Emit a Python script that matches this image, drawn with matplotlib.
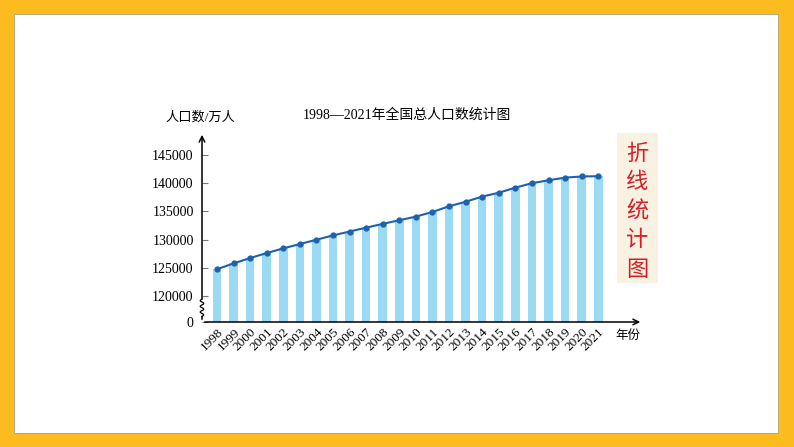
import matplotlib
matplotlib.use('Agg')
import matplotlib.pyplot as plt
from matplotlib.patches import Rectangle
import matplotlib.transforms as mtransforms
import numpy as np

years = [str(y) for y in range(1998, 2022)]
population = [124761, 125786, 126743, 127627, 128453, 129227, 129988, 130756,
              131448, 132129, 132802, 133450, 134091, 134916, 135922, 136726,
              137646, 138326, 139232, 140011, 140541, 141008, 141212, 141260]
yticks = [0, 120000, 125000, 130000, 135000, 140000, 145000]

BREAK = 120000
LOW = 0.92


def fwd(v):
    v = np.asarray(v, dtype=float)
    return np.where(v < BREAK, v / BREAK * LOW, LOW + (v - BREAK) / 5000.0)


def inv(u):
    u = np.asarray(u, dtype=float)
    return np.where(u < LOW, u / LOW * BREAK, BREAK + (u - LOW) * 5000.0)


fig = plt.figure(figsize=(7.94, 4.47), dpi=100)
fig.set_facecolor('#FCBB1F')
# white slide
fig.patches.append(Rectangle((14 / 794, 14 / 447), (794 - 30) / 794, (447 - 28) / 447,
                             transform=fig.transFigure, facecolor='white',
                             edgecolor='#B0A080', linewidth=0.6, zorder=-5))

ax = fig.add_axes([202 / 794, 125 / 447, 441 / 794, 190 / 447])
ax.set_facecolor('none')
ax.set_yscale('function', functions=(fwd, inv))
x = np.arange(len(years))
ax.bar(x, population, width=0.52, color='#9ADAF2', linewidth=0, zorder=1)
ax.plot(x, population, color='#1D62AE', linewidth=1.5, marker='o', markersize=3.5, zorder=3)

ax.set_xlim(-0.9, 25.7)
ax.set_ylim(0, 149100)
for s in ax.spines.values():
    s.set_visible(False)

serif = ['Liberation Serif', 'Noto Sans CJK SC']
ax.set_yticks(yticks)
ax.set_yticklabels([str(t) for t in yticks], family=serif, fontsize=10)
ax.tick_params(axis='y', direction='in', length=4, width=0.8, color='#777777', pad=6)
ax.set_xticks(x)
ax.set_xticklabels(years, rotation=45, ha='right', va='top', rotation_mode='anchor',
                   family=serif, fontsize=9.5)
ax.tick_params(axis='x', length=0, pad=3)

# axes with arrows
ax.annotate('', xy=(1, 0), xytext=(0, 0), xycoords='axes fraction',
            arrowprops=dict(arrowstyle='->', color='black', lw=1.1))
ax.annotate('', xy=(0, 1), xytext=(0, 0), xycoords='axes fraction',
            arrowprops=dict(arrowstyle='->', color='black', lw=1.1))

# break squiggle on y axis
tr = mtransforms.blended_transform_factory(ax.transAxes, ax.transAxes)
yy = np.linspace(0.03, 0.12, 60)
xx = 0.004 * np.sin((yy - 0.03) / 0.09 * 3 * 2 * np.pi)
ax.add_patch(Rectangle((-0.006, 0.03), 0.012, 0.09, transform=tr, facecolor='white',
                       edgecolor='none', zorder=5, clip_on=False))
ax.plot(xx, yy, transform=tr, color='black', lw=0.9, zorder=6, clip_on=False)

fig.text(407 / 794, 1 - 115 / 447, '1998—2021年全国总人口数统计图', family=serif,
         fontsize=10, ha='center', va='center')
fig.text(200 / 794, 1 - 117 / 447, '人口数/万人', family=serif, fontsize=9.5,
         ha='center', va='center')
fig.text(628 / 794, 1 - 336 / 447, '年份', family=serif, fontsize=9,
         ha='center', va='center')

# red vertical label
fig.patches.append(Rectangle((617 / 794, 1 - 283 / 447), 41 / 794, 150 / 447,
                             transform=fig.transFigure, facecolor='#F9F1E1',
                             edgecolor='none', zorder=1))
for i, ch in enumerate('折线统计图'):
    fig.text(637 / 794, 1 - (153 + 29 * i) / 447, ch, family=['Noto Sans CJK SC'],
             fontsize=16, color='#D51F26', ha='center', va='center')

fig.savefig('out.png', dpi=100, facecolor=fig.get_facecolor())
